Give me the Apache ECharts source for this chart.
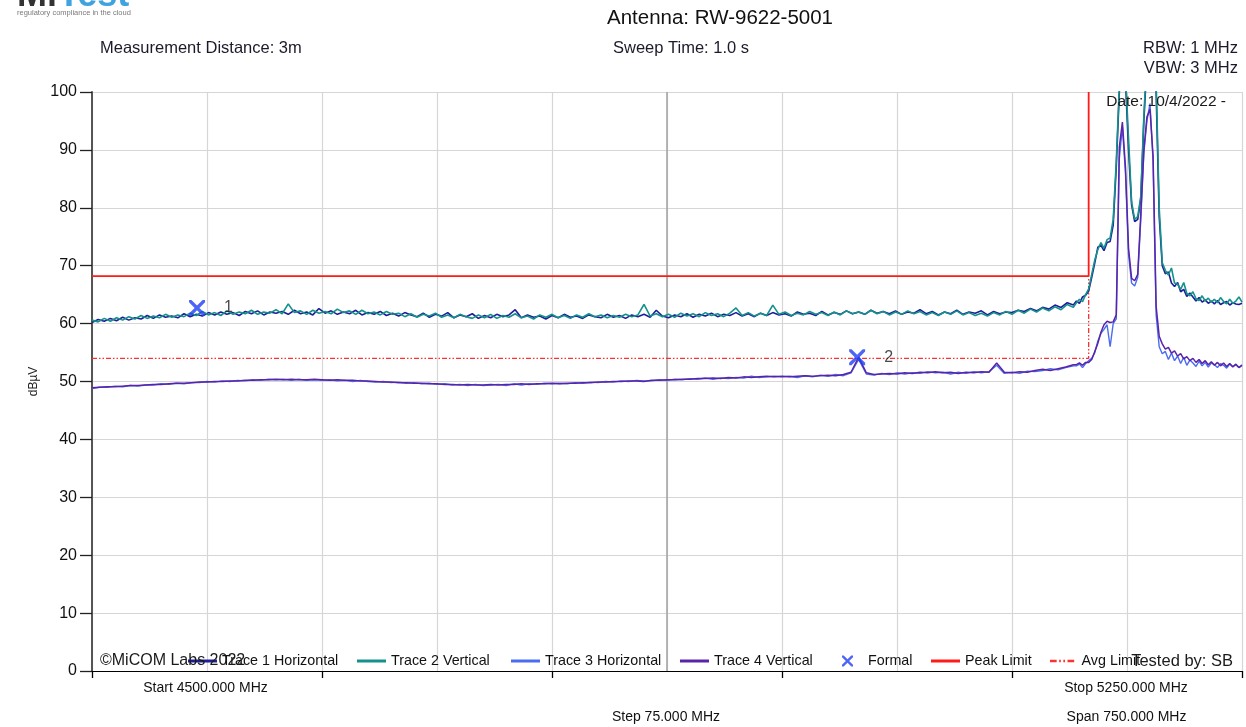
<!DOCTYPE html>
<html>
<head>
<meta charset="utf-8">
<script src="https://cdn.jsdelivr.net/npm/echarts@6/dist/echarts.min.js"></script>
<style>
html,body{margin:0;padding:0;background:#fff;}
#chart{width:1246px;height:727px;}
</style>
</head>
<body>
<div id="chart"></div>
<script>
// ---------------- DATA ----------------
// Sweep: Start 4500 MHz, Stop 5250 MHz
const X_MIN = 4500, X_MAX = 5250, X_STEP = 75;
const Y_TICKS = [0, 10, 20, 30, 40, 50, 60, 70, 80, 90, 100];

// Peak traces, part A: 4500..5140 MHz every 4 MHz
const PK_A_START = 4500, PK_A_STEP = 4;
const trace1A = [
  60.2, 60.7, 60.4, 60.9, 60.5, 61.1, 60.6, 61.0, 60.8, 61.4,
  60.9, 61.5, 61.1, 61.3, 61.0, 61.7, 61.2, 61.6, 61.3, 61.9,
  61.5, 62.0, 61.6, 61.9, 61.4, 62.1, 61.7, 62.2, 61.5, 62.0,
  61.8, 62.1, 61.6, 62.3, 61.7, 62.0, 61.5, 62.6, 61.8, 62.2,
  61.6, 62.0, 61.7, 62.3, 61.5, 61.9, 61.6, 62.1, 61.4, 61.8,
  61.3, 61.9, 61.5, 61.2, 61.8, 61.1, 61.6, 61.3, 61.9, 61.0,
  61.5, 61.2, 61.7, 60.9, 61.4, 61.0, 61.6, 61.2, 61.5, 62.4,
  61.0, 61.5, 61.1, 61.3, 60.8, 61.4, 61.0, 61.6, 61.1, 61.3,
  60.9, 61.5, 61.2, 61.0, 61.6, 61.1, 61.4, 60.9, 61.5, 61.2,
  61.6, 61.1, 62.3, 61.3, 61.0, 61.5, 61.2, 61.7, 61.1, 61.6,
  61.3, 61.8, 61.2, 61.6, 61.4, 61.9, 61.3, 61.7, 61.2, 61.8,
  61.4, 61.9, 61.5, 61.7, 61.3, 62.0, 61.6, 61.8, 61.4, 62.1,
  61.5, 61.9, 61.6, 62.2, 61.7, 62.0, 61.6, 62.3, 61.8, 62.1,
  61.7, 62.2, 61.6, 62.0, 61.8, 62.4, 61.7, 62.1, 61.5, 62.0,
  61.7, 62.3, 61.6, 62.0, 61.8, 62.2, 61.5, 62.1, 61.7, 62.0,
  61.9, 62.3, 62.1, 62.6, 62.2, 62.8, 62.5, 63.2, 62.8, 63.6,
  63.2
];
const trace2A = [
  60.6, 60.3, 60.9, 60.4, 61.0, 60.6, 61.2, 60.8, 61.4, 60.9,
  61.3, 61.0, 61.6, 61.1, 61.5, 61.2, 61.8, 61.4, 62.1, 61.5,
  61.9, 61.4, 62.2, 61.6, 62.0, 61.7, 62.3, 61.6, 62.0, 61.8,
  62.4, 61.7, 63.4, 61.9, 62.2, 61.6, 62.3, 61.8, 62.1, 61.7,
  62.5, 61.9, 62.2, 61.6, 62.3, 61.7, 62.0, 61.5, 62.1, 61.6,
  61.8, 61.2, 61.7, 61.1, 61.6, 61.3, 61.8, 61.1, 61.5, 61.0,
  61.6, 61.2, 60.9, 61.5, 61.0, 61.6, 60.9, 61.4, 61.1, 61.7,
  61.0, 61.3, 60.8, 61.5, 61.1, 61.6, 61.0, 61.4, 60.9, 61.5,
  61.1, 61.7, 61.2, 61.5, 61.0, 61.4, 61.1, 61.6, 61.2, 61.5,
  63.3, 61.3, 61.7, 61.2, 61.6, 61.1, 61.8, 61.3, 61.7, 61.2,
  61.9, 61.4, 61.7, 61.2, 61.8, 62.7, 61.4, 61.9, 61.3, 61.8,
  61.4, 63.2, 61.6, 62.0, 61.4, 61.8, 61.5, 62.1, 61.6, 61.9,
  61.4, 62.0, 61.5, 62.2, 61.7, 62.0, 61.6, 62.3, 61.7, 62.1,
  61.5, 62.0, 61.6, 62.2, 61.7, 62.1, 61.5, 61.9, 61.4, 62.0,
  61.6, 62.2, 61.5, 61.9, 61.4, 61.8, 61.3, 61.9, 61.5, 62.1,
  61.6, 62.3, 61.8, 62.5, 62.0, 62.7, 62.2, 62.9, 62.4, 63.3,
  62.8
];

// Average traces, part A: 4500..5140 MHz every 5 MHz
const AV_A_START = 4500, AV_A_STEP = 5;
const trace3A = [
  48.8, 49.0, 49.0, 49.2, 49.1, 49.3, 49.2, 49.4, 49.4, 49.6,
  49.5, 49.7, 49.6, 49.8, 49.8, 50.0, 49.9, 50.1, 50.0, 50.2,
  50.1, 50.3, 50.2, 50.4, 50.3, 50.4, 50.2, 50.4, 50.2, 50.3,
  50.2, 50.3, 50.1, 50.2, 50.0, 50.2, 50.0, 49.9, 50.0, 49.8,
  49.9, 49.7, 49.8, 49.6, 49.7, 49.5, 49.6, 49.4, 49.5, 49.3,
  49.5, 49.3, 49.4, 49.5, 49.3, 49.6, 49.4, 49.6, 49.5, 49.7,
  49.6, 49.7, 49.6, 49.8, 49.7, 49.9, 49.8, 50.0, 49.9, 50.1,
  50.0, 50.2, 50.1, 50.1, 50.3, 50.2, 50.4, 50.3, 50.5, 50.4,
  50.6, 50.4, 50.6, 50.5, 50.7, 50.6, 50.9, 50.7, 50.8, 50.9,
  50.8, 50.9, 50.7, 51.0, 50.8, 51.1, 50.9, 51.2, 51.0, 51.5,
  53.8, 51.3, 51.1, 51.4, 51.2, 51.5, 51.3, 51.5, 51.4, 51.7,
  51.5, 51.6, 51.3, 51.6, 51.4, 51.7, 51.5, 51.7, 52.8, 51.4,
  51.6, 51.4, 51.8, 51.7, 51.9, 52.2, 52.0, 52.4, 52.7
];
const trace4A = [
  48.9, 49.0, 49.1, 49.1, 49.2, 49.3, 49.3, 49.4, 49.5, 49.5,
  49.6, 49.7, 49.7, 49.8, 49.9, 49.9, 50.0, 50.0, 50.1, 50.1,
  50.2, 50.2, 50.3, 50.3, 50.4, 50.3, 50.4, 50.3, 50.3, 50.4,
  50.3, 50.2, 50.3, 50.2, 50.2, 50.1, 50.1, 50.0, 49.9, 49.9,
  49.8, 49.8, 49.7, 49.7, 49.6, 49.6, 49.5, 49.5, 49.4, 49.5,
  49.4, 49.4, 49.5, 49.4, 49.5, 49.5, 49.6, 49.5, 49.6, 49.6,
  49.7, 49.6, 49.7, 49.7, 49.8, 49.8, 49.9, 49.9, 50.0, 50.0,
  50.1, 50.1, 50.0, 50.2, 50.2, 50.3, 50.3, 50.4, 50.4, 50.5,
  50.5, 50.6, 50.5, 50.7, 50.6, 50.8, 50.7, 50.8, 50.9, 50.8,
  50.9, 50.8, 50.9, 51.0, 50.9, 51.0, 51.1, 51.0, 51.2, 51.6,
  54.2, 51.5, 51.2, 51.3, 51.4, 51.3, 51.5, 51.4, 51.6, 51.5,
  51.7, 51.5, 51.6, 51.4, 51.6, 51.5, 51.7, 51.6, 53.2, 51.6,
  51.5, 51.7, 51.6, 51.9, 52.1, 51.9, 52.2, 52.5, 52.9
];

// All traces, part B (signal region): 5142..5250 MHz every 2 MHz
const B_START = 5142, B_STEP = 2;
const trace1B = [
  63.9, 63.5, 64.6, 64.9, 65.6, 68.0, 70.5, 73.2, 73.5, 72.6,
  74.0, 74.2, 77.0, 87.0, 100.0, 105.0, 102.0, 90.0, 80.5, 77.6,
  78.0, 81.5, 95.0, 105.0, 108.0, 107.0, 100.0, 78.5, 70.0, 68.6,
  68.9, 67.0, 66.4, 67.1, 65.5, 65.9, 64.7, 65.3, 64.6, 63.9,
  64.5, 63.7, 64.1, 63.5, 63.9, 63.4, 64.0, 63.3, 63.6, 63.8,
  63.2, 63.6, 63.4, 63.3, 63.5
];
const trace2B = [
  63.6, 64.2, 63.8, 65.0, 66.0, 68.5, 71.0, 72.8, 74.0, 73.0,
  74.5, 74.8, 78.0, 88.0, 101.0, 106.0, 103.0, 92.0, 81.0, 78.0,
  78.5, 82.0, 96.0, 106.0, 109.0, 108.0, 102.0, 80.0, 70.5, 69.2,
  68.4, 69.6, 67.0, 66.8, 65.9, 67.1, 65.2, 64.8, 65.5, 64.3,
  64.0, 64.8, 63.9, 64.4, 63.7, 64.2, 63.6, 64.5, 63.8, 63.4,
  64.2, 63.5, 63.9, 64.6, 63.7
];
const trace3B = [
  52.7, 53.0, 52.4, 53.1, 53.6, 54.0, 55.0, 57.0, 58.3, 59.0,
  59.8, 56.0, 60.0, 60.8, 88.5, 94.0, 86.0, 72.0, 67.0, 66.5,
  68.0, 78.0, 89.5, 95.0, 98.0, 88.0, 61.5, 56.0, 54.8, 55.2,
  53.8, 54.9, 53.6, 54.4, 53.1, 54.2, 52.8, 53.7, 53.2, 52.6,
  53.5, 52.7, 53.3, 52.5, 53.2, 52.9, 52.4, 53.1, 52.8, 52.3,
  53.0, 52.6, 52.9, 52.4, 52.9
];
const trace4B = [
  52.9, 53.2, 52.8, 53.3, 53.3, 53.8, 55.2, 56.6, 58.5, 59.8,
  60.4, 60.2, 60.3, 61.5, 90.5, 94.8, 87.0, 73.0, 67.8, 67.4,
  68.5, 79.0, 90.0, 95.7, 97.0, 89.0, 63.0, 57.8, 56.5, 55.6,
  55.9, 54.9, 55.3, 54.4, 54.8, 53.9, 54.3, 53.6, 54.0, 53.3,
  53.8, 53.1, 53.6, 52.9, 53.4, 52.8, 53.3, 52.7, 53.2, 52.6,
  53.1, 52.5, 53.0, 52.4, 52.8
];

// Limits
const peakLimitF = [4500, 5150, 5150];
const peakLimitV = [68.2, 68.2, 100];
const avgLimitF = [4500, 5150, 5150];
const avgLimitV = [54.0, 54.0, 68.2];

// Formal markers
const markerF = [4568.5, 4999.0];
const markerV = [62.7, 54.2];
const markerLabels = ['1', '2'];

// Center grid line
const CENTER_F = 4875;

// ---------------- BUILD ----------------
function pairs(start, step, vals) { return vals.map((v, i) => [start + i * step, v]); }
const FONT = '"Liberation Sans", Arial, sans-serif';
const XSYM = 'path://M0,0 L3,0 L10,7 L17,0 L20,0 L20,3 L13,10 L20,17 L20,20 L17,20 L10,13 L3,20 L0,20 L0,17 L7,10 L0,3 Z';
const ICON_SOLID = 'path://M0,0 H29 V3 H0 Z';
const ICON_DASHDOT = 'path://M0,0 H8 V3 H0 Z M11,0 H13 V3 H11 Z M16,0 H18 V3 H16 Z M21,0 H29 V3 H21 Z';

const COLORS = {
  t1: '#1e1e9a', t2: '#15918b', t3: '#4a6cf0', t4: '#5a24a8',
  marker: '#1f3ff5', peak: '#ff1a1a', avg: '#ff3030'
};

function lineSeries(name, data, color, width, extra) {
  return Object.assign({
    name, type: 'line', data, symbol: 'none', showSymbol: false,
    lineStyle: { color, width }, itemStyle: { color },
    animation: false, clip: true
  }, extra || {});
}

function txt(text, x, y, size, align, color, extra) {
  return Object.assign({
    type: 'text', x, y, z: 100,
    style: {
      text, fill: color || '#111', font: size + 'px ' + FONT,
      align: align, textAlign: align, verticalAlign: 'middle', textVerticalAlign: 'middle'
    }
  }, extra || {});
}

function legendAt(name, left, opts) {
  return Object.assign({
    data: [name], left, top: 654, orient: 'horizontal', padding: 0,
    icon: ICON_SOLID, itemWidth: 29, itemHeight: 3, selectedMode: false,
    textStyle: { fontSize: 14.3, fontFamily: FONT, color: '#111' }
  }, opts || {});
}

const chart = echarts.init(document.getElementById('chart'), null, { renderer: 'canvas' });

const option = {
  animation: false,
  backgroundColor: '#fff',
  grid: { left: 92, right: 4, top: 92, bottom: 56, containLabel: false },
  xAxis: [
    {
      type: 'value', min: X_MIN, max: X_MAX, interval: X_STEP, position: 'bottom',
      axisLine: { show: true, onZero: false, lineStyle: { color: '#000', width: 1.2 } },
      axisTick: { show: false }, axisLabel: { show: false },
      splitLine: { show: true, lineStyle: { color: '#d6d6d6', width: 1.2 } }
    },
    {
      type: 'value', min: X_MIN, max: X_MAX, interval: X_STEP * 2, position: 'bottom', offset: 0,
      axisLine: { show: false, onZero: false },
      axisTick: { show: true, inside: false, length: 7, lineStyle: { color: '#000', width: 1.3 } },
      axisLabel: { show: false }, splitLine: { show: false }
    }
  ],
  yAxis: {
    type: 'value', min: Y_TICKS[0], max: Y_TICKS[Y_TICKS.length - 1], interval: Y_TICKS[1] - Y_TICKS[0],
    name: 'dBµV', nameLocation: 'middle', nameGap: 52,
    nameTextStyle: { fontSize: 12, fontFamily: FONT, color: '#222' },
    axisLine: { show: true, lineStyle: { color: '#555', width: 2 } },
    axisTick: { show: true, length: 12, lineStyle: { color: '#222', width: 1.3 } },
    axisLabel: { fontSize: 16, fontFamily: FONT, color: '#111', margin: 15 },
    splitLine: { show: true, lineStyle: { color: '#d6d6d6', width: 1.2 } }
  },
  legend: [
    legendAt('Trace 1 Horizontal', 188),
    legendAt('Trace 2 Vertical', 357),
    legendAt('Trace 3 Horizontal', 511),
    legendAt('Trace 4 Vertical', 680),
    legendAt('Formal', 842, { icon: XSYM, itemWidth: 11, itemHeight: 11,
      textStyle: { fontSize: 14.3, fontFamily: FONT, color: '#111', padding: [0, 0, 0, 10] } }),
    legendAt('Peak Limit', 931),
    legendAt('Avg Limit', 1050, { icon: ICON_DASHDOT, itemHeight: 2.5 })
  ],
  series: [
    lineSeries('Peak Limit', peakLimitF.map((f, i) => [f, peakLimitV[i]]), COLORS.peak, 1.8, { z: 1 }),
    lineSeries('Avg Limit', avgLimitF.map((f, i) => [f, avgLimitV[i]]), COLORS.avg, 1.3,
      { z: 1, lineStyle: { color: COLORS.avg, width: 1.3, type: [5, 2, 1.5, 2, 1.5, 2] } }),
    lineSeries('Trace 1 Horizontal',
      pairs(PK_A_START, PK_A_STEP, trace1A).concat(pairs(B_START, B_STEP, trace1B)), COLORS.t1, 1.6, { z: 2,
      markLine: { silent: true, symbol: 'none', label: { show: false }, animation: false,
        lineStyle: { color: '#a6a6a6', width: 1.6, type: 'solid' }, data: [{ xAxis: CENTER_F }], z: 0 } }),
    lineSeries('Trace 2 Vertical',
      pairs(PK_A_START, PK_A_STEP, trace2A).concat(pairs(B_START, B_STEP, trace2B)), COLORS.t2, 1.6, { z: 3 }),
    lineSeries('Trace 3 Horizontal',
      pairs(AV_A_START, AV_A_STEP, trace3A).concat(pairs(B_START, B_STEP, trace3B)), COLORS.t3, 1.4, { z: 4 }),
    lineSeries('Trace 4 Vertical',
      pairs(AV_A_START, AV_A_STEP, trace4A).concat(pairs(B_START, B_STEP, trace4B)), COLORS.t4, 1.5, { z: 5 }),
    {
      name: 'Formal', type: 'scatter', symbol: XSYM, symbolSize: 16, z: 10,
      itemStyle: { color: COLORS.marker },
      data: markerF.map((f, i) => ({ value: [f, markerV[i]], label: { formatter: markerLabels[i] } })),
      label: { show: true, position: 'right', distance: 19, fontSize: 16, fontFamily: FONT, color: '#1a1a1a' },
      animation: false
    }
  ],
  graphic: [
    { type: 'text', x: 17, y: 14.5, z: 100, style: { text: 'Mi', fill: '#333', font: 'bold 36px ' + FONT, verticalAlign: 'bottom', textVerticalAlign: 'bottom' } },
    { type: 'text', x: 58, y: 14.5, z: 100, style: { text: 'Test', fill: '#3ea3de', font: 'bold 36px ' + FONT, verticalAlign: 'bottom', textVerticalAlign: 'bottom' } },
    txt('regulatory compliance in the cloud', 17, 13, 7.5, 'left', '#7a7a7a'),
    txt('Antenna: RW-9622-5001', 720, 18, 20.5, 'center', '#111'),
    txt('Measurement Distance: 3m', 100, 48, 16.5, 'left', '#1a1a2a'),
    txt('Sweep Time: 1.0 s', 681, 48, 16.5, 'center', '#1a1a2a'),
    txt('RBW: 1 MHz', 1238, 48, 16.5, 'right', '#1a1a2a'),
    txt('VBW: 3 MHz', 1238, 68, 16.5, 'right', '#1a1a2a'),
    txt('Date: 10/4/2022 -', 1226, 102, 15.5, 'right', '#1a1a1a'),
    txt('©MiCOM Labs 2022', 100, 661, 16, 'left', '#1a1a1a'),
    txt('Tested by: SB', 1233, 661, 16.5, 'right', '#1a1a1a'),
    txt('Start 4500.000 MHz', 205.5, 688, 14, 'center', '#111'),
    txt('Stop 5250.000 MHz', 1126, 688, 14, 'center', '#111'),
    txt('Step 75.000 MHz', 666, 717, 14, 'center', '#111'),
    txt('Span 750.000 MHz', 1126.5, 717, 14, 'center', '#111')
  ]
};
chart.setOption(option);
</script>
</body>
</html>
